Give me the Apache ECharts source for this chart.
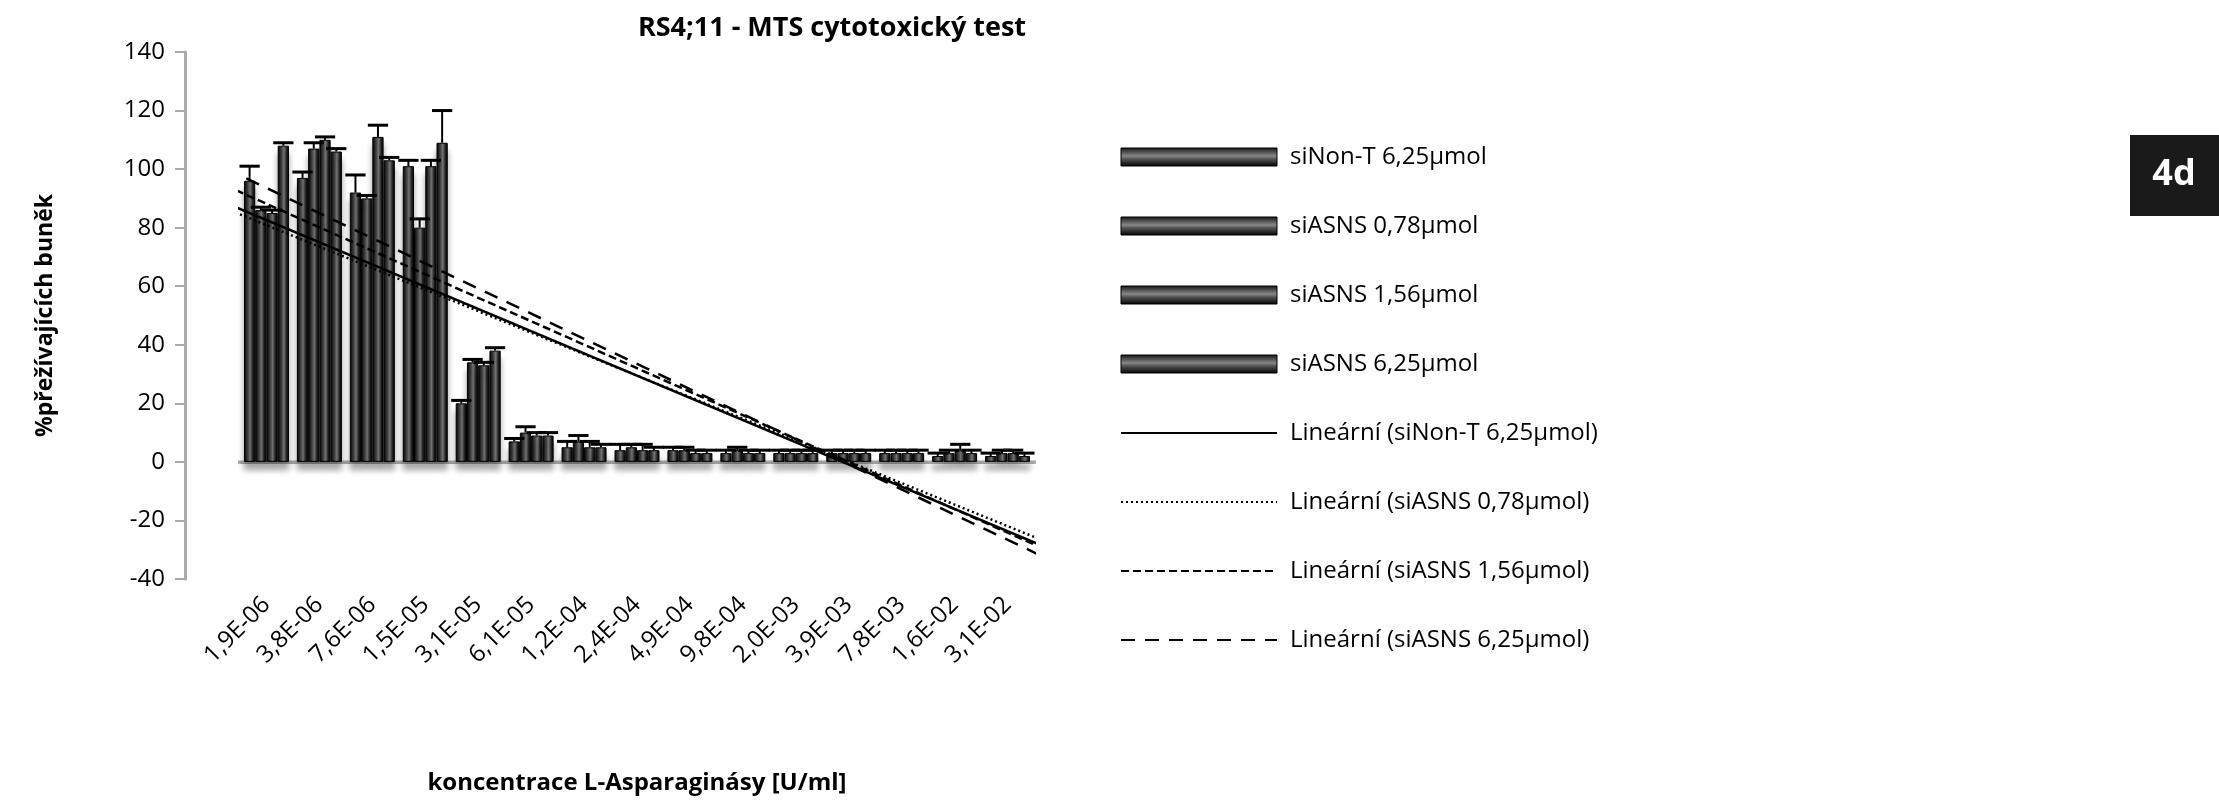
<!DOCTYPE html>
<html><head><meta charset="utf-8">
<script src="https://cdn.jsdelivr.net/npm/echarts@6/dist/echarts.min.js"></script>
<style>html,body{margin:0;padding:0;background:#fff}#c{width:2219px;height:800px}</style>
</head><body><div id="c"></div>
<script>
const categories = ['1,9E-06','3,8E-06','7,6E-06','1,5E-05','3,1E-05','6,1E-05','1,2E-04','2,4E-04','4,9E-04','9,8E-04','2,0E-03','3,9E-03','7,8E-03','1,6E-02','3,1E-02'];
const yTicks = [-40,-20,0,20,40,60,80,100,120,140];
const seriesNames = ['siNon-T 6,25µmol','siASNS 0,78µmol','siASNS 1,56µmol','siASNS 6,25µmol'];
const trendNames = ['Lineární (siNon-T 6,25µmol)','Lineární (siASNS 0,78µmol)','Lineární (siASNS 1,56µmol)','Lineární (siASNS 6,25µmol)'];
const s1 = [96, 97, 92, 101, 20, 7, 5, 4, 4, 3, 3, 3, 3, 2, 2];
const s2 = [86, 107, 90, 80, 34, 10, 7, 5, 4, 4, 3, 3, 3, 3, 3];
const s3 = [85, 110, 111, 101, 33, 9, 5, 4, 3, 3, 3, 3, 3, 4, 3];
const s4 = [108, 106, 103, 109, 38, 9, 5, 4, 3, 3, 3, 3, 3, 3, 2];
const e1 = [5, 2, 6, 2, 1, 1, 2, 2, 1, 1, 1, 1, 1, 1, 1];
const e2 = [1, 2, 1, 3, 1, 2, 2, 1, 1, 1, 1, 1, 1, 1, 1];
const e3 = [1, 1, 4, 2, 1, 1, 2, 2, 1, 1, 1, 1, 1, 2, 1];
const e4 = [1, 1, 1, 11, 1, 1, 1, 1, 1, 1, 1, 1, 1, 1, 1];
const N = categories.length;
const vals = [s1,s2,s3,s4];
const errs = [e1,e2,e3,e4];
const gapFrac = 0.15;

function regress(a){
  const n=a.length; let sx=0,sy=0,sxx=0,sxy=0;
  a.forEach((y,i)=>{const x=i+1;sx+=x;sy+=y;sxx+=x*x;sxy+=x*y;});
  const b=(n*sxy-sx*sy)/(n*sxx-sx*sx); const c=(sy-b*sx)/n;
  return [b,c];
}
const x0=-1.2, x1=N-1+0.75;
const dashes=['solid',[2,3],[8,4],[14,10]];

const barColor = {type:'linear',x:0,y:0,x2:1,y2:0,colorStops:[{offset:0,color:'#000'},{offset:0.35,color:'#444'},{offset:0.55,color:'#777'},{offset:0.8,color:'#222'},{offset:1,color:'#000'}]};
const legendBarColor = {type:'linear',x:0,y:0,x2:0,y2:1,colorStops:[{offset:0,color:'#111'},{offset:0.45,color:'#888'},{offset:0.6,color:'#555'},{offset:1,color:'#000'}]};

const series=[];
vals.forEach((v,k)=>{
  series.push({name:seriesNames[k],type:'bar',data:v,barGap:'0%',barCategoryGap:(gapFrac*100)+'%',
    itemStyle:{color:barColor,borderColor:'#000',borderWidth:1,shadowColor:'rgba(0,0,0,0.35)',shadowBlur:6,shadowOffsetY:8},z:2});
});
vals.forEach((v,k)=>{
  series.push({type:'custom',xAxisIndex:0,yAxisIndex:0,z:4,silent:true,
    data:v.map((y,i)=>[i,y,errs[k][i]]),
    renderItem:(p,api)=>{
      const i=api.value(0),y=api.value(1),e=api.value(2);
      const cw=api.size([1,0])[0]; const bw=cw*(1-gapFrac)/4;
      const c=api.coord([i,y]); const cx=c[0]-cw*(1-gapFrac)/2+bw*(k+0.5);
      const top=api.coord([i,y+e])[1];
      return {type:'group',children:[
        {type:'line',shape:{x1:cx,y1:c[1],x2:cx,y2:top},style:{stroke:'#000',lineWidth:2}},
        {type:'line',shape:{x1:cx-bw*0.9,y1:top,x2:cx+bw*0.9,y2:top},style:{stroke:'#000',lineWidth:3}}]};
    }});
});
vals.forEach((v,k)=>{
  const [b,c]=regress(v);
  series.push({name:trendNames[k],type:'line',xAxisIndex:1,yAxisIndex:0,symbol:'none',clip:false,z:5,
    itemStyle:{color:'#000'},
    data:[[x0,b*(x0+1)+c],[x1,b*(x1+1)+c]],lineStyle:{color:'#000',width:2.5,type:dashes[k]}});
});
// extended zero line (x axis line runs from y axis to the right end)
series.push({type:'line',xAxisIndex:1,yAxisIndex:0,symbol:'none',clip:false,silent:true,z:1,
  data:[[-1.05,0],[N-1+1.0,0]],lineStyle:{color:'#aaa',width:3}});

const chart=echarts.init(document.getElementById('c'));
chart.setOption({
  animation:false,
  title:{text:'RS4;11 - MTS cytotoxický test',left:827,textAlign:'center',top:10,textStyle:{fontFamily:'Open Sans',fontSize:27,fontWeight:'bold',color:'#000'}},
  grid:{left:240,top:52,right:2219-1034,bottom:57},
  legend:{orient:'vertical',left:1115,top:140,itemWidth:156,itemHeight:18,itemGap:45,
    textStyle:{fontFamily:'Open Sans',fontSize:24,color:'#000',padding:[0,0,0,8]},
    data:[...seriesNames.map(n=>({name:n,icon:'rect',itemStyle:{color:legendBarColor,borderColor:'#000',borderWidth:1}})),
          ...trendNames.map(n=>({name:n,itemStyle:{opacity:0}}))]},
  xAxis:[{type:'category',data:categories,
      axisLine:{onZero:true,lineStyle:{color:'#aaa',width:3}},axisTick:{show:false},
      axisLabel:{rotate:45,fontFamily:'Open Sans',fontSize:24,color:'#000',margin:22,interval:0},
      name:'koncentrace L-Asparaginásy [U/ml]',nameLocation:'middle',nameGap:192,
      nameTextStyle:{fontFamily:'Open Sans',fontSize:24,fontWeight:'bold',color:'#000'}},
    {type:'value',min:-0.5,max:N-0.5,show:false}],
  yAxis:{type:'value',min:yTicks[0],max:yTicks[yTicks.length-1],interval:20,offset:55,
    axisLine:{show:true,onZero:false,lineStyle:{color:'#aaa',width:3}},axisTick:{show:true,length:10,lineStyle:{color:'#aaa',width:2}},
    splitLine:{show:false},axisLabel:{fontFamily:'Open Sans',fontSize:24,color:'#000',margin:20},
    name:'%přežívajících buněk',nameLocation:'middle',nameGap:128,nameRotate:90,
    nameTextStyle:{fontFamily:'Open Sans',fontSize:23,fontWeight:'bold',color:'#000'}},
  graphic:[{type:'rect',shape:{x:2130,y:135,width:89,height:81},style:{fill:'#1a1a1a'}},
    {type:'text',x:2174,y:175,style:{text:'4d',fill:'#fff',font:'bold 36px "Open Sans"',align:'center',verticalAlign:'middle'}}],
  series
});
</script></body></html>
